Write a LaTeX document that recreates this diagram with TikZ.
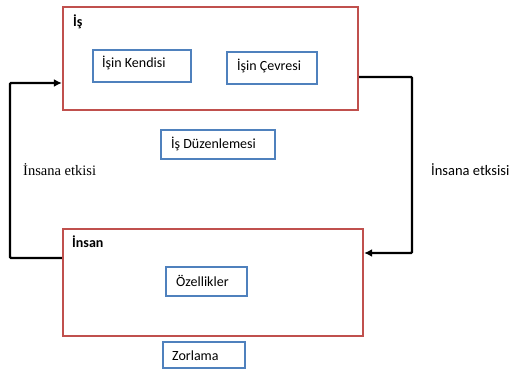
\documentclass[tikz,border=0pt]{standalone}
\usepackage{fontspec}
\setmainfont{Carlito}
\newfontfamily\serifface{Liberation Serif}
\usetikzlibrary{arrows.meta}
\definecolor{boxred}{HTML}{C0504D}
\definecolor{boxblue}{HTML}{4F81BD}
\tikzset{
  redbox/.style={draw=boxred, line width=2.3pt, rectangle, inner sep=0pt, fill=white},
  bluebox/.style={draw=boxblue, line width=2.3pt, rectangle, inner sep=0pt, fill=white},
  txt/.style={anchor=west, inner sep=0pt, font=\fontsize{14}{16}\selectfont},
  btxt/.style={txt, font=\fontsize{14}{16}\selectfont\bfseries},
  conn/.style={line width=2.3pt, -{Latex[length=8pt,width=8pt]}, rounded corners=1pt}
}
\begin{document}
\begin{tikzpicture}[x=1pt,y=-1pt]
\useasboundingbox (0,0) rectangle (512,371);
% main boxes
\node[redbox, minimum width=295pt, minimum height=103pt] (is) at (210.5,58.5) {};
\node[redbox, minimum width=300pt, minimum height=107pt] (insan) at (213,282.5) {};
% inner boxes
\node[bluebox, minimum width=98pt, minimum height=32pt] (kendisi) at (142,66) {};
\node[bluebox, minimum width=90pt, minimum height=32pt] (cevresi) at (272,68) {};
\node[bluebox, minimum width=114pt, minimum height=29pt] (duzen) at (218,144.5) {};
\node[bluebox, minimum width=81pt, minimum height=29pt] (ozellik) at (206.5,281.5) {};
\node[bluebox, minimum width=82pt, minimum height=26pt] (zorlama) at (204,355) {};
% texts
\node[btxt] (tis) at (73,22) {İş};
\node[btxt] (tinsan) at (72,242) {İnsan};
\node[txt] (tkendisi) at (102,63) {İşin Kendisi};
\node[txt] (tcevresi) at (237,66) {İşin Çevresi};
\node[txt] (tduzen) at (171,144) {İş Düzenlemesi};
\node[txt] (tozellik) at (176,281) {Özellikler};
\node[txt] (tzorlama) at (172,356) {Zorlama};
\node[txt, font=\fontsize{14.5}{16}\selectfont\serifface] (lleft) at (23,170) {İnsana etkisi};
\node[txt, font=\fontsize{14.5}{16}\selectfont] (lright) at (431,170) {İnsana etksisi};
% connectors
\coordinate (a1) at (10,258);
\coordinate (a2) at (10,83);
\coordinate (b1) at (412,77);
\coordinate (b2) at (412,253);
\draw[conn] (insan.west |- 0,258) -- (a1) -- (a2) -- (is.west |- 0,83);
\draw[conn] (is.east |- 0,77) -- (b1) -- (b2) -- (insan.east |- 0,253);
\end{tikzpicture}
\end{document}
